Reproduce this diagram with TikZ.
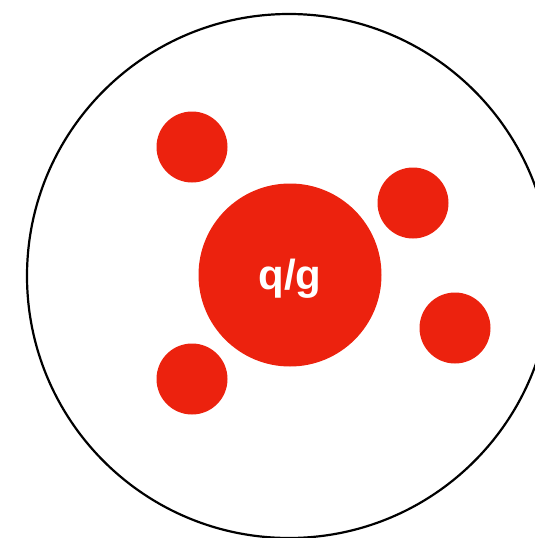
\documentclass[tikz,border=0pt]{standalone}
\usepackage{fontspec}
\setmainfont{Liberation Sans}
\usepackage{tikz}
\usetikzlibrary{positioning,calc}
\definecolor{partonred}{RGB}{236,34,14}
\tikzset{
  hadronbnd/.style={draw=black, circle, line width=2.2pt, fill=none,
    inner sep=0pt, minimum size=524pt},
  corepart/.style={circle, fill=partonred, inner sep=0pt,
    minimum size=183pt, text=white, text height=34pt, text depth=6pt,
    font=\fontsize{42}{44}\selectfont\bfseries},
  satpart/.style={circle, fill=partonred, inner sep=0pt,
    minimum size=71pt},
}

\begin{document}
\begin{tikzpicture}[x=1pt, y=-1pt]

\useasboundingbox (0,0) rectangle (535,538);

%% ── Outer boundary ───────────────────────────────────────────────────────
\node[hadronbnd] (hadron) at (289, 276) {};

%% ── Central parton ───────────────────────────────────────────────────────
\node[corepart] (core) at (290, 275) {q/g};

%% ── Surrounding partons ──────────────────────────────────────────────────
\node[satpart] (sat_ul) at (192, 147) {};
\node[satpart] (sat_ll) at (192, 379) {};
\node[satpart] (sat_ur) at (413, 203) {};
\node[satpart] (sat_r)  at (455, 328) {};

\end{tikzpicture}
\end{document}
